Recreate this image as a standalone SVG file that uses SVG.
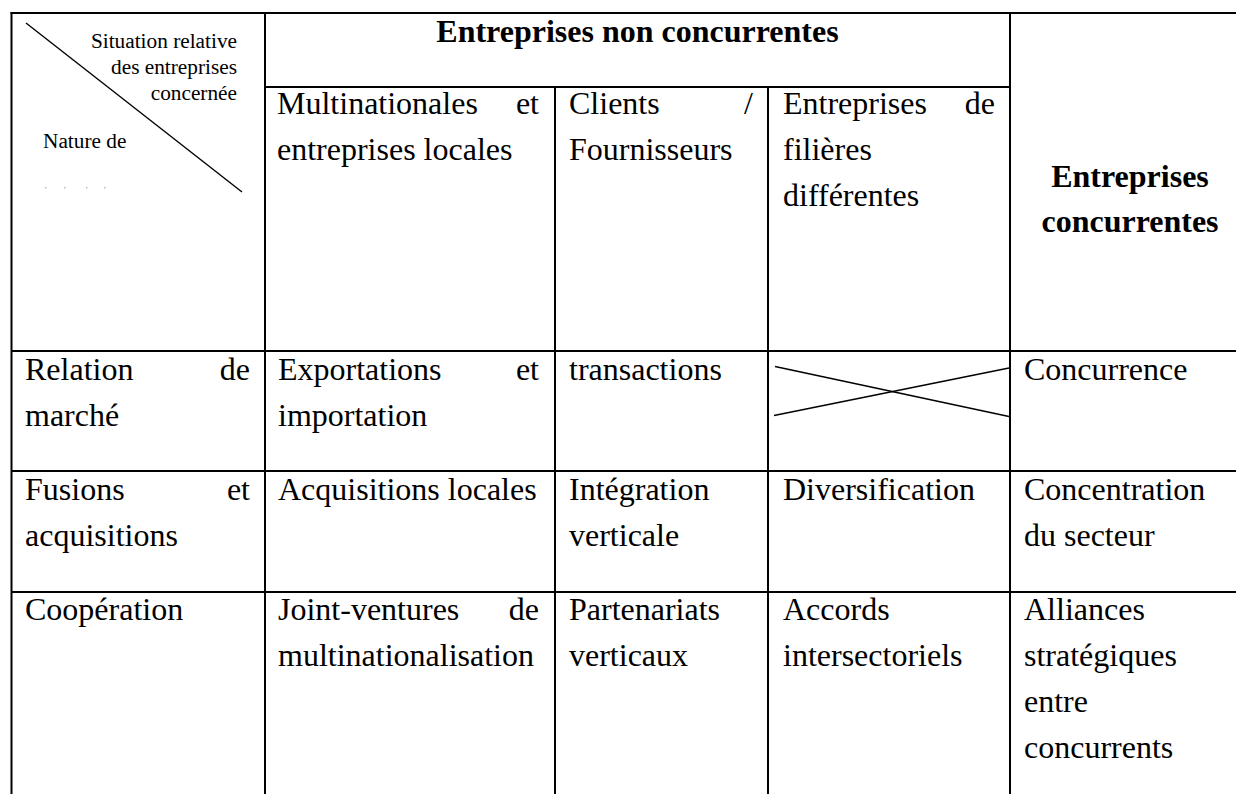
<svg xmlns="http://www.w3.org/2000/svg" width="1236" height="794" viewBox="0 0 1236 794">
<style>
.t{font-family:"Liberation Serif","Times New Roman",serif;font-size:32px;fill:#000}
.b{font-family:"Liberation Serif","Times New Roman",serif;font-size:32px;font-weight:bold;fill:#000}
.s{font-family:"Liberation Serif","Times New Roman",serif;font-size:21.3px;fill:#000}
.e{text-anchor:end}
.m{text-anchor:middle}
.g{stroke:#000;stroke-width:2;fill:none}
.d{stroke:#000;stroke-width:1.4;fill:none}
</style>
<rect width="1236" height="794" fill="#fff"/>
<g id="grid" class="g">
<line x1="10.5" y1="13" x2="1236" y2="13"/>
<line x1="11.5" y1="12" x2="11.5" y2="794"/>
<line x1="265" y1="13" x2="265" y2="794"/>
<line x1="265" y1="87" x2="1010" y2="87"/>
<line x1="555" y1="87" x2="555" y2="794"/>
<line x1="768" y1="87" x2="768" y2="794"/>
<line x1="1010" y1="13" x2="1010" y2="794"/>
<line x1="11.5" y1="351" x2="1236" y2="351"/>
<line x1="11.5" y1="471" x2="1236" y2="471"/>
<line x1="11.5" y1="592" x2="1236" y2="592"/>
</g>
<g id="connectors" class="d">
<line x1="26" y1="23" x2="242" y2="192"/>
<line x1="775" y1="366.5" x2="1009" y2="416.5"/>
<line x1="774" y1="415.5" x2="1009" y2="368"/>
</g>
<g id="corner">
<text class="s e" x="237" y="48">Situation relative</text>
<text class="s e" x="237" y="74">des entreprises</text>
<text class="s e" x="237" y="100">concernée</text>
<text class="s" x="43" y="148">Nature de</text>
<g fill="#bbb"><rect x="45" y="187" width="1.5" height="1.5"/><rect x="64" y="187" width="1.5" height="1.5"/><rect x="86" y="187" width="1.5" height="1.5"/><rect x="104" y="187" width="1.5" height="1.5"/></g>
</g>
<g id="h-noncon"><text class="b m" x="637.5" y="42">Entreprises non concurrentes</text></g>
<g id="h-multi"><text class="t" x="277" y="114">Multinationales</text><text class="t e" x="539" y="114">et</text><text class="t" x="277" y="160">entreprises locales</text></g>
<g id="h-clients"><text class="t" x="569" y="114">Clients</text><text class="t e" x="753" y="114">/</text><text class="t" x="569" y="160">Fournisseurs</text></g>
<g id="h-filieres"><text class="t" x="783" y="114">Entreprises</text><text class="t e" x="995" y="114">de</text><text class="t" x="783" y="160">filières</text><text class="t" x="783" y="206">différentes</text></g>
<g id="h-concur"><text class="b m" x="1130" y="187">Entreprises</text><text class="b m" x="1130" y="232">concurrentes</text></g>
<g id="r-marche"><text class="t" x="25" y="380">Relation</text><text class="t e" x="250" y="380">de</text><text class="t" x="25" y="426">marché</text></g>
<g id="c-export"><text class="t" x="278" y="380">Exportations</text><text class="t e" x="539" y="380">et</text><text class="t" x="278" y="426">importation</text></g>
<g id="c-trans"><text class="t" x="569" y="380">transactions</text></g>
<g id="c-concurrence"><text class="t" x="1024" y="380">Concurrence</text></g>
<g id="r-fusions"><text class="t" x="25" y="500">Fusions</text><text class="t e" x="250" y="500">et</text><text class="t" x="25" y="546">acquisitions</text></g>
<g id="c-acq"><text class="t" x="278" y="500">Acquisitions locales</text></g>
<g id="c-integ"><text class="t" x="569" y="500">Intégration</text><text class="t" x="569" y="546">verticale</text></g>
<g id="c-divers"><text class="t" x="783" y="500">Diversification</text></g>
<g id="c-concent"><text class="t" x="1024" y="500">Concentration</text><text class="t" x="1024" y="546">du secteur</text></g>
<g id="r-coop"><text class="t" x="25" y="620">Coopération</text></g>
<g id="c-joint"><text class="t" x="278" y="620">Joint-ventures</text><text class="t e" x="539" y="620">de</text><text class="t" x="278" y="666">multinationalisation</text></g>
<g id="c-parten"><text class="t" x="569" y="620">Partenariats</text><text class="t" x="569" y="666">verticaux</text></g>
<g id="c-accords"><text class="t" x="783" y="620">Accords</text><text class="t" x="783" y="666">intersectoriels</text></g>
<g id="c-alliances"><text class="t" x="1024" y="620">Alliances</text><text class="t" x="1024" y="666">stratégiques</text><text class="t" x="1024" y="712">entre</text><text class="t" x="1024" y="758">concurrents</text></g>
</svg>
